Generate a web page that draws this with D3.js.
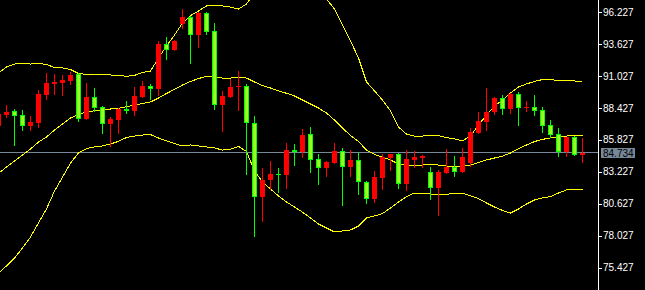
<!DOCTYPE html>
<html>
<head>
<meta charset="utf-8">
<script src="https://cdn.jsdelivr.net/npm/d3@7"></script>
<style>
  html, body { margin: 0; padding: 0; background: #000; }
  svg { display: block; }
</style>
</head>
<body>
<svg id="chart" width="645" height="290"></svg>
<script>
// candles, first one is cut by the left edge
var opens = [86.97, 87.84, 88.17, 87.84, 86.95, 87.19, 89.47, 90.37, 90.45, 90.61,
  91.18, 87.52, 89.31, 88.49, 87.11, 87.43, 88.33, 88.17, 89.31, 90.20,
  89.96, 93.62, 93.13, 95.25, 95.82, 94.35, 96.15, 94.68, 88.66, 89.31,
  90.12, 90.20, 87.19, 81.17, 82.55, 83.04, 82.95, 84.99, 84.83, 86.29,
  84.26, 83.53, 83.93, 84.91, 83.61, 84.18, 82.39, 81.00, 82.71, 84.34,
  84.67, 82.22, 84.18, 84.34, 83.20, 81.90, 83.12, 83.61, 83.20, 83.93,
  86.38, 87.27, 88.09, 89.23, 88.33, 89.55, 88.41, 88.49, 88.25, 87.03,
  86.29, 84.83, 86.05, 84.59];
var highs = [88.00, 88.66, 88.33, 88.25, 87.76, 89.88, 91.26, 91.18, 91.10, 91.34,
  91.26, 90.45, 90.04, 88.57, 87.68, 88.41, 88.98, 90.12, 90.61, 90.37,
  93.87, 94.19, 93.95, 96.47, 95.90, 96.23, 96.23, 95.33, 89.80, 90.77,
  91.42, 90.37, 87.76, 83.53, 84.10, 83.53, 85.56, 85.48, 86.70, 86.87,
  84.67, 84.10, 85.56, 85.15, 84.99, 84.75, 82.47, 83.28, 84.67, 84.70,
  84.75, 84.99, 84.91, 84.59, 83.61, 83.36, 85.07, 84.50, 85.15, 86.78,
  88.09, 90.04, 89.31, 89.47, 89.63, 89.71, 88.98, 89.47, 88.49, 87.43,
  86.78, 86.07, 86.13, 85.97];
var lows = [86.87, 87.62, 85.34, 86.54, 86.54, 86.78, 89.06, 89.47, 89.39, 90.28,
  87.27, 87.43, 88.09, 86.29, 85.24, 86.29, 87.92, 87.76, 89.25, 89.06,
  89.39, 92.32, 93.05, 94.84, 91.99, 93.30, 94.35, 88.25, 86.46, 89.23,
  88.17, 82.95, 77.91, 79.13, 81.74, 81.49, 81.82, 83.69, 84.34, 83.12,
  82.14, 82.79, 83.85, 80.43, 82.79, 81.33, 80.60, 80.68, 81.74, 83.28,
  81.82, 81.65, 83.53, 83.53, 80.92, 79.62, 83.04, 82.79, 83.12, 83.61,
  86.29, 86.54, 87.84, 87.84, 87.92, 86.95, 88.09, 87.76, 86.38, 85.97,
  84.42, 84.42, 84.50, 83.93];
var closes = [87.92, 88.11, 87.79, 86.97, 87.27, 89.55, 90.45, 90.53, 90.69, 91.10,
  87.52, 89.31, 88.41, 87.11, 87.52, 88.33, 88.17, 89.39, 90.20, 89.96,
  93.62, 93.13, 93.87, 95.82, 94.35, 96.15, 94.60, 88.66, 89.39, 90.12,
  90.20, 87.15, 81.17, 82.55, 83.04, 82.96, 84.99, 84.83, 86.21, 84.18,
  83.53, 84.01, 84.91, 83.61, 84.18, 82.39, 81.00, 82.79, 84.42, 84.67,
  82.22, 84.26, 84.42, 84.50, 81.90, 83.20, 83.61, 83.20, 84.42, 86.46,
  87.35, 88.09, 89.23, 88.33, 89.55, 88.41, 88.49, 88.17, 86.95, 86.21,
  84.83, 86.05, 84.59, 84.734];

// bollinger bands, one value per candle
var bbUpper = [91.26, 91.75, 91.99, 92.05, 91.99, 92.05, 91.95, 91.71, 91.67, 91.55,
  91.22, 91.15, 91.15, 91.15, 91.10, 91.07, 90.99, 91.07, 91.30, 91.42,
  92.48, 93.46, 94.35, 95.33, 95.94, 96.31, 96.72, 96.72, 96.72, 96.63,
  96.47, 96.88, 97.77, 98.10, 98.26, 98.34, 98.43, 98.43, 98.18, 98.02,
  97.77, 97.29, 96.47, 95.17, 93.87, 92.48, 90.53, 89.80, 89.06, 88.17,
  86.86, 86.29, 86.13, 86.13, 86.16, 86.16, 86.01, 85.89, 85.73, 86.13,
  87.03, 87.84, 88.57, 89.06, 89.63, 90.12, 90.37, 90.57, 90.73, 90.75,
  90.61, 90.69, 90.61, 90.59];
var bbMiddle = [83.08, 83.61, 84.10, 84.59, 85.07, 85.64, 86.05, 86.62, 87.11, 87.60,
  87.88, 88.09, 88.18, 88.27, 88.33, 88.39, 88.52, 88.63, 88.78, 88.90,
  89.23, 89.59, 89.93, 90.28, 90.57, 90.81, 90.98, 90.94, 90.85, 90.85,
  90.91, 90.85, 90.53, 90.24, 90.04, 89.80, 89.61, 89.39, 89.06, 88.74,
  88.41, 88.00, 87.43, 86.78, 86.17, 85.68, 84.99, 84.63, 84.42, 84.18,
  83.85, 83.77, 83.73, 83.77, 83.81, 83.77, 83.69, 83.67, 83.69, 83.77,
  83.97, 84.18, 84.34, 84.50, 84.75, 85.11, 85.40, 85.68, 85.86, 85.97,
  86.05, 86.13, 86.17, 86.17];
var bbLower = [74.98, 75.55, 76.20, 77.01, 77.91, 79.05, 80.19, 81.65, 82.79, 83.93,
  84.75, 85.11, 85.24, 85.32, 85.48, 85.70, 86.01, 86.13, 86.21, 86.25,
  85.97, 85.73, 85.52, 85.32, 85.40, 85.32, 85.24, 85.16, 84.99, 85.07,
  85.28, 84.87, 83.28, 82.39, 81.82, 81.25, 80.76, 80.35, 79.93, 79.46,
  78.97, 78.64, 78.32, 78.40, 78.48, 78.80, 79.46, 79.62, 79.82, 80.27,
  80.76, 81.20, 81.49, 81.49, 81.41, 81.37, 81.39, 81.45, 81.49, 81.25,
  81.04, 80.68, 80.35, 80.07, 79.86, 80.19, 80.60, 80.92, 81.09, 81.20,
  81.49, 81.74, 81.79, 81.79];

var tickValues = [96.227, 93.627, 91.027, 88.427, 85.827, 83.227, 80.627, 78.027, 75.427];
var lastPrice = 84.734;

var svg = d3.select("#chart"),
    width = +svg.attr("width"),
    height = +svg.attr("height"),
    plotRight = 598;

var x = d3.scaleLinear().domain([-1, 72]).range([-2, 582]),
    y = d3.scaleLinear().domain([75.427, 96.227]).range([267.5, 12]);

var upColor = "#ff0000",
    downEdge = "#00ff00",
    downFill = "#99ff22";

svg.append("rect").attr("width", width).attr("height", height).attr("fill", "#000");

var plot = svg.append("g").attr("shape-rendering", "crispEdges");

// last price line
var lastY = Math.floor(y(lastPrice)) - 0.5;
plot.append("line")
  .attr("x1", 0).attr("x2", plotRight)
  .attr("y1", lastY).attr("y2", lastY)
  .attr("stroke", "#778899");

// bands
var line = d3.line()
  .x(function(d, i) { return Math.round(x(i - 1)) + 0.5; })
  .y(function(d) { return y(d); });

[bbUpper, bbMiddle, bbLower].forEach(function(band) {
  plot.append("path")
    .attr("d", line(band))
    .attr("fill", "none")
    .attr("stroke", "#ffff00")
    .attr("stroke-width", 1);
});

// candles
var candles = opens.map(function(o, i) {
  return {i: i - 1, o: o, h: highs[i], l: lows[i], c: closes[i]};
});

var cg = plot.selectAll(".candle")
  .data(candles)
  .enter().append("g")
  .attr("class", "candle");

cg.append("rect")
  .attr("x", function(d) { return Math.round(x(d.i)); })
  .attr("width", 1)
  .attr("y", function(d) { return Math.round(y(d.h)); })
  .attr("height", function(d) { return Math.max(1, Math.round(y(d.l)) - Math.round(y(d.h))); })
  .attr("fill", function(d) { return d.c >= d.o ? upColor : downEdge; });

function bodyTop(d) { return Math.round(y(Math.max(d.o, d.c))); }
function bodyH(d) { return Math.max(1, Math.round(y(Math.min(d.o, d.c))) - bodyTop(d)); }

cg.append("rect")
  .attr("x", function(d) { return Math.round(x(d.i)) - 2; })
  .attr("width", 5)
  .attr("y", bodyTop)
  .attr("height", bodyH)
  .attr("fill", function(d) { return d.c >= d.o ? upColor : downEdge; });

cg.filter(function(d) { return d.c < d.o && bodyH(d) > 2; })
  .append("rect")
  .attr("x", function(d) { return Math.round(x(d.i)) - 1; })
  .attr("width", 3)
  .attr("y", function(d) { return bodyTop(d) + 1; })
  .attr("height", function(d) { return bodyH(d) - 2; })
  .attr("fill", downFill);

// right price axis
svg.append("line")
  .attr("x1", plotRight + 0.5).attr("x2", plotRight + 0.5)
  .attr("y1", 0).attr("y2", height)
  .attr("stroke", "#fff")
  .attr("shape-rendering", "crispEdges");

var axis = svg.append("g")
  .attr("transform", "translate(" + plotRight + ",0)")
  .call(d3.axisRight(y).tickValues(tickValues).tickSize(4).tickSizeOuter(0).tickPadding(1)
    .tickFormat(d3.format(".3f")));

axis.select(".domain").remove();
axis.selectAll(".tick line").attr("stroke", "#fff").attr("shape-rendering", "crispEdges");
axis.selectAll(".tick text")
  .attr("fill", "#fff")
  .style("font", "10px 'Liberation Sans', Arial, sans-serif");

// last price tag
var tag = svg.append("g").attr("transform", "translate(601," + Math.floor(y(lastPrice)) + ")");
tag.append("rect")
  .attr("x", 0).attr("y", -5)
  .attr("width", 34).attr("height", 10)
  .attr("fill", "#778899");
tag.append("text")
  .attr("x", 2).attr("y", 0).attr("dy", "0.35em")
  .attr("fill", "#000")
  .style("font", "10px 'Liberation Sans', Arial, sans-serif")
  .text(d3.format(".3f")(lastPrice));
</script>
</body>
</html>
